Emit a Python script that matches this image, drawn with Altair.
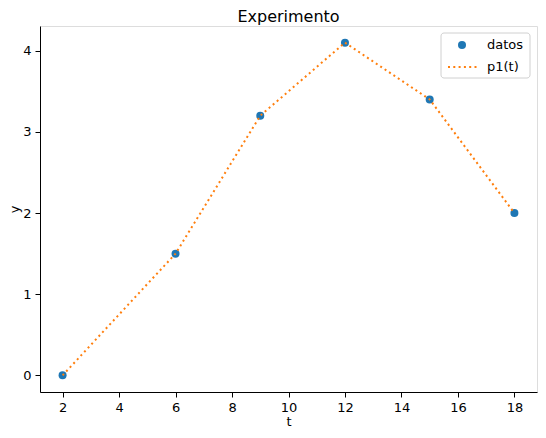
import altair as alt
import pandas as pd

t_vals = [2, 6, 9, 12, 15, 18]
y_vals = [0, 1.5, 3.2, 4.1, 3.4, 2.0]
legend_labels = ['datos', 'p1(t)']

blue = '#1f77b4'
orange = '#ff7f0e'
font = 'DejaVu Sans'

df = pd.DataFrame({'t': t_vals, 'y': y_vals})

axis_style = dict(grid=False, tickSize=5, tickColor='black', domainColor='black',
                  labelColor='black', titleColor='black', labelFontSize=13, titleFontSize=13,
                  titleFontWeight='normal', labelFont=font, titleFont=font)

x_enc = alt.X('t:Q', title='t',
              scale=alt.Scale(domain=[1.2, 18.8], nice=False, zero=False),
              axis=alt.Axis(values=list(range(2, 19, 2)), format='d', labelPadding=4,
                            titlePadding=1, **axis_style))
y_enc = alt.Y('y:Q', title='y',
              scale=alt.Scale(domain=[-0.205, 4.305], nice=False, zero=False),
              axis=alt.Axis(values=[0, 1, 2, 3, 4], format='d', labelPadding=4,
                            titlePadding=1, **axis_style))

base = alt.Chart(df)
points = base.mark_point(filled=True, size=64, opacity=1, color=blue).encode(x=x_enc, y=y_enc)
line = base.mark_line(color=orange, strokeWidth=2, strokeDash=[2, 3.3]).encode(x='t:Q', y='y:Q')

# legend box drawn by hand, matplotlib style
one = df.head(1)
leg_box = alt.Chart(one).mark_rect(
    fill='white', stroke='#cccccc', strokeWidth=1, cornerRadius=3, opacity=0.9
).encode(x=alt.value(401), x2=alt.value(490), y=alt.value(7), y2=alt.value(52))
leg_pt = alt.Chart(one).mark_point(filled=True, size=64, opacity=1, color=blue).encode(
    x=alt.value(422), y=alt.value(19))
leg_line = alt.Chart(one).mark_rule(color=orange, strokeWidth=2, strokeDash=[2, 3.3]).encode(
    x=alt.value(408), x2=alt.value(437), y=alt.value(41))
leg_txt = alt.Chart(pd.DataFrame({'label': legend_labels, 'yy': [19, 41]})).mark_text(
    align='left', baseline='middle', fontSize=13, font=font, color='black'
).encode(x=alt.value(447), y=alt.Y('yy:Q', scale=None), text='label:N')

chart = alt.layer(points, line, leg_box, leg_pt, leg_line, leg_txt).properties(
    width=497, height=366,
    title=alt.TitleParams('Experimento', fontSize=16, font=font, fontWeight='normal',
                          color='black', offset=1),
    autosize=alt.AutoSizeParams(type='none'),
    padding={'left': 32, 'top': 18, 'right': 1, 'bottom': 38},
).configure_view(stroke='black', strokeWidth=1).configure(background='white')

chart.save('out.html', embed_options={'renderer': 'svg', 'actions': False})
